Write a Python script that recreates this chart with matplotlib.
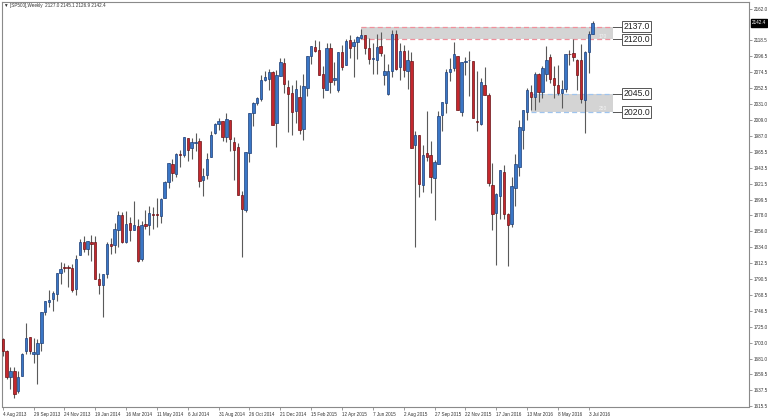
import matplotlib
matplotlib.use('Agg')
import matplotlib.pyplot as plt
import matplotlib.transforms as mtransforms

plt.rcParams['font.family'] = ['Liberation Sans', 'DejaVu Sans']

# weekly SP500 bars, first bar = week of 4 Aug 2013
opens = [1708, 1692, 1656, 1664, 1636, 1657, 1692, 1711.4, 1687.3, 1687.2,
         1702, 1745, 1759.4, 1763.4, 1770, 1798.8, 1806.3, 1806.6, 1806.2, 1777,
         1822.9, 1841.5, 1832.3, 1841.3, 1841, 1791, 1782.7, 1797, 1838.8, 1836.8,
         1857.7, 1877.9, 1842, 1867.7, 1858, 1863.9, 1818.2, 1865.8, 1865, 1879.5,
         1880, 1876.7, 1902, 1923.9, 1949, 1934.8, 1962.9, 1960.8, 1984.2, 1969.9,
         1976.9, 1979.5, 1926.6, 1933.4, 1958.4, 1991.7, 2004.1, 2007.2, 1986, 2009.1,
         1979, 1972, 1905.7, 1885.6, 1963, 2018.2, 2032, 2038.3, 2063.5, 2065.8,
         2074.8, 2005, 2069.3, 2087.6, 2054.4, 2046.1, 2020.8, 2041, 1996.7, 2053.5,
         2096.5, 2109.8, 2105.2, 2072.3, 2050, 2108, 2064.1, 2050, 2102, 2084.1,
         2119.3, 2110.2, 2115.6, 2121.3, 2125.3, 2108.6, 2092.3, 2091.3, 2110.6, 2071,
         2045, 2076, 2126.9, 2082, 2104.5, 2077, 2089.7, 1974, 1988, 1920,
         1963, 1960.8, 1929.2, 1948, 2015.7, 2032, 2075.1, 2080.8, 2096.6, 2020,
         2089.4, 2090.95, 2090.4, 2008, 2004, 2057.8, 2044, 1920, 1881, 1904,
         1936.9, 1880, 1866, 1916, 1945, 1995, 2020, 2047, 2040, 2072,
         2048, 2072, 2095, 2067.2, 2057.6, 2046.5, 2052.2, 2100.1, 2100.8, 2091.8,
         2091, 2036, 2103, 2127.0]
highs = [1709, 1693, 1669.5, 1669.5, 1664, 1689, 1729.9, 1711.4, 1708.8, 1708,
         1745.3, 1759.8, 1775.2, 1774.5, 1798.2, 1813.6, 1813, 1810, 1811.5, 1823.8,
         1844.9, 1849.4, 1843.2, 1850.8, 1849.3, 1798.8, 1798, 1840.8, 1847.5, 1867.9,
         1883.6, 1882.4, 1884, 1875.9, 1897.3, 1872.5, 1869.6, 1884.9, 1891.3, 1889.1,
         1902.2, 1901.3, 1925.8, 1949.4, 1955.6, 1963.9, 1968.2, 1985.6, 1984.2, 1983.9,
         1991.4, 1984.9, 1942.9, 1964, 1994.4, 2005, 2011.2, 2007.2, 2019.3, 2009.1,
         1985.2, 1977.8, 1912, 1965.3, 2018.2, 2034.3, 2041.3, 2071.5, 2075.8, 2079.5,
         2075.8, 2077.8, 2093.6, 2093.6, 2064.4, 2056.9, 2064.6, 2057.6, 2072.4, 2097,
         2110.6, 2119.6, 2117.5, 2083.5, 2114.9, 2114.9, 2089, 2102.6, 2111.9, 2120.9,
         2125.9, 2120.95, 2123.9, 2134.7, 2126.2, 2121.9, 2115, 2126.6, 2129.9, 2100,
         2086, 2132.8, 2132.8, 2114.2, 2112.7, 2105.4, 2102.9, 1993.5, 1988, 1975,
         2020.9, 1979.6, 1953.4, 2020.9, 2033.5, 2079.7, 2094.3, 2116.5, 2096.6, 2089.2,
         2095.6, 2104.3, 2090.4, 2076.7, 2067.4, 2081.6, 2046, 1950.3, 1908.9, 1940.2,
         1947.2, 1881.6, 1930.7, 1962.96, 2009.1, 2022.4, 2052.4, 2056.6, 2075.1, 2074,
         2083.9, 2111.05, 2099.9, 2083.4, 2084.9, 2064.3, 2099.7, 2105.3, 2120.6, 2093,
         2113.3, 2104, 2131.7, 2145.1]
lows = [1684.9, 1652.6, 1639.4, 1627.5, 1633.4, 1656.9, 1688, 1687, 1674.9, 1646.5,
        1692, 1740.5, 1752.7, 1746.2, 1760.6, 1784.2, 1800.5, 1779.1, 1772.3, 1768,
        1822.9, 1827.7, 1823.7, 1815.5, 1790.3, 1770.5, 1737.9, 1791.8, 1824.6, 1825.9,
        1834.4, 1839.6, 1839.5, 1842.1, 1858, 1814.4, 1815.8, 1859.7, 1850.6, 1859.8,
        1862.4, 1868.1, 1902, 1916, 1925.8, 1930.9, 1944.7, 1958.2, 1952.9, 1955.6,
        1965.8, 1916.4, 1904.8, 1928.3, 1958.4, 1989.5, 1995.8, 1980.3, 1978.5, 1966,
        1926, 1906, 1820.7, 1882, 1951.4, 2001, 2030.2, 2034.5, 2062.8, 2049.6,
        2002.3, 1972.6, 2069.3, 2046, 1992.4, 1988.1, 2004.5, 1989.2, 1980.9, 2041.9,
        2085.4, 2103, 2071.3, 2039.7, 2050, 2045.5, 2056.5, 2048, 2077.5, 2084.1,
        2094.8, 2067.9, 2092.5, 2120, 2099.2, 2085.7, 2072.1, 2072.5, 2097.4, 2056.6,
        2044, 2068, 2077.5, 2063.5, 2067.9, 2052.1, 1970.9, 1834, 1903, 1910,
        1953, 1908.9, 1871.9, 1948, 1993.3, 2018.2, 2062.6, 2076, 2022.8, 2015,
        2070.3, 2042.4, 2012.4, 1993.3, 2002, 2043.6, 1918.5, 1857.8, 1810, 1872.7,
        1872.8, 1808, 1862, 1891, 1931.8, 1969.3, 2009.6, 2022.3, 2022.5, 2033.8,
        2039.7, 2062, 2059.3, 2039.7, 2044, 2025.9, 2047.3, 2085.1, 2089.5, 2050.4,
        2032.1, 1991.7, 2074, 2126.9]
closes = [1691.4, 1655.8, 1663.5, 1633.0, 1655.2, 1688.0, 1709.9, 1691.8, 1690.5, 1703.2,
          1744.5, 1759.8, 1761.6, 1770.6, 1798.2, 1804.8, 1805.8, 1805.1, 1775.3, 1818.3,
          1841.4, 1831.4, 1842.4, 1838.7, 1790.3, 1782.6, 1797.0, 1838.6, 1836.3, 1859.5,
          1878.0, 1841.1, 1866.5, 1857.6, 1865.1, 1815.7, 1864.9, 1863.4, 1881.1, 1878.5,
          1877.9, 1900.5, 1923.6, 1949.4, 1936.2, 1962.9, 1961, 1985.4, 1967.6, 1978.2,
          1978.3, 1925.2, 1931.6, 1955.1, 1988.4, 2003.4, 2007.7, 1985.5, 2010.4, 1982.9,
          1967.9, 1906.1, 1886.8, 1964.6, 2018.1, 2031.9, 2039.8, 2063.5, 2067.6, 2075.4,
          2002.3, 2070.7, 2088.8, 2058.2, 2044.8, 2019.4, 2051.8, 1995, 2055.5, 2097,
          2110.3, 2104.5, 2071.3, 2053.4, 2108.1, 2061, 2067, 2102.1, 2081.2, 2117.7,
          2108.3, 2116.1, 2122.7, 2126.1, 2107.4, 2092.8, 2094.1, 2110, 2101.5, 2076.8,
          2076.6, 2126.6, 2079.7, 2103.8, 2077.6, 2091.5, 1970.9, 1988.9, 1921.2, 1961,
          1958, 1931.3, 1951.4, 2014.9, 2033.1, 2075.2, 2079.4, 2099.2, 2023, 2089.2,
          2090.1, 2091.7, 2012.4, 2005.6, 2061, 2043.9, 1922, 1880.3, 1906.9, 1940.2,
          1880.05, 1864.8, 1917.8, 1948.05, 2000, 2022.2, 2049.6, 2040, 2072.8, 2047.6,
          2080.7, 2091.6, 2065.3, 2057.1, 2046.6, 2052.3, 2099.1, 2099.1, 2096.1, 2071.2,
          2037.4, 2102.95, 2127.0, 2142.4]

date_labels = ['4 Aug 2013', '29 Sep 2013', '24 Nov 2013', '19 Jan 2014', '16 Mar 2014',
               '11 May 2014', '6 Jul 2014', '31 Aug 2014', '26 Oct 2014', '21 Dec 2014',
               '15 Feb 2015', '12 Apr 2015', '7 Jun 2015', '2 Aug 2015', '27 Sep 2015',
               '22 Nov 2015', '17 Jan 2016', '13 Mar 2016', '8 May 2016', '3 Jul 2016']
price_ticks = [2162.0, 2118.5, 2096.5, 2074.5, 2052.5, 2031.0, 2009.0, 1987.0, 1965.5,
               1943.5, 1921.5, 1899.5, 1878.0, 1856.0, 1834.0, 1812.5, 1790.5, 1768.5,
               1746.5, 1725.0, 1703.0, 1681.0, 1659.5, 1637.5, 1615.5]

# supply / demand zones: (top, bottom, first bar, points label, line colour)
zone_top = [2137.0, 2045.0]
zone_bottom = [2120.0, 2020.0]
zone_start = [93, 137]
zone_points = ['170', '250']
zone_line_colors = ['#f0909c', '#9fc4ee']

header = '\u25bc [SP500],Weekly  2127.0 2145.1 2126.9 2142.4'

n = len(closes)
idx = list(range(n))

fig = plt.figure(figsize=(7.68, 4.18), dpi=100)
ax = fig.add_axes([2 / 768, 11.5 / 418, 747 / 768, 404.5 / 418])
ax.set_xlim(-0.2, 193.57)
ax.set_ylim(1615.3, 2171.2)

zone_end = n - 1 + 5.2
for top, bot, start, pts, lc in zip(zone_top, zone_bottom, zone_start, zone_points, zone_line_colors):
    ax.fill_between([start, zone_end], bot, top, color='#d4d4d4', lw=0, zorder=1)
    ax.hlines([top, bot], start, zone_end, colors=lc, linestyles=(0, (4, 2.5)), lw=0.9, zorder=2)
    ax.text(zone_end - 3.6, bot + 1.0, pts, fontsize=3.5, color='#f4f4f4', ha='left', va='bottom', zorder=2)
    for lvl in (top, bot):
        ax.plot([zone_end, zone_end + 2.6], [lvl, lvl], color='#555555', lw=0.7, zorder=2)
        ax.text(zone_end + 2.8, lvl, f'{lvl:.1f}', fontsize=6.2, color='#222222', ha='left', va='center',
                bbox=dict(boxstyle='square,pad=0.12', fc='white', ec='#555555', lw=0.7), zorder=4)

# candles
ax.vlines(idx, lows, highs, colors='#5a5a5a', lw=0.8, zorder=3)
up = [c >= o for o, c in zip(opens, closes)]
bottoms = [min(o, c) for o, c in zip(opens, closes)]
heights = [max(abs(c - o), 0.9) for o, c in zip(opens, closes)]
face = ['#3a76c6' if u else '#c4282e' for u in up]
edge = ['#1c3e78' if u else '#6a1216' for u in up]
ax.bar(idx, heights, bottom=bottoms, width=0.62, color=face, edgecolor=edge, lw=0.5, zorder=3)

# axes styling
for s in ax.spines.values():
    s.set_color('#8a8a8a')
    s.set_linewidth(0.8)
ax.yaxis.tick_right()
ax.set_yticks(price_ticks, [f'{v:.1f}' for v in price_ticks])
ax.set_xticks(list(range(0, n, 8)), date_labels, ha='left')
ax.tick_params(axis='both', labelsize=3.3, colors='#8a8a8a', labelcolor='#333333', length=2.5, width=0.6, pad=1)
ax.tick_params(axis='x', pad=1.2)

trans = mtransforms.blended_transform_factory(ax.transAxes, ax.transData)
ax.text(1.004, closes[-1], f'{closes[-1]:.1f}', transform=trans, fontsize=3.3, color='white',
        ha='left', va='center', bbox=dict(boxstyle='square,pad=0.25', fc='black', ec='black'), zorder=5)

fig.text(4 / 768, 1 - 6 / 418, header, fontsize=3.3, color='#333333', ha='left', va='center')

fig.savefig('out.png', dpi=100)
